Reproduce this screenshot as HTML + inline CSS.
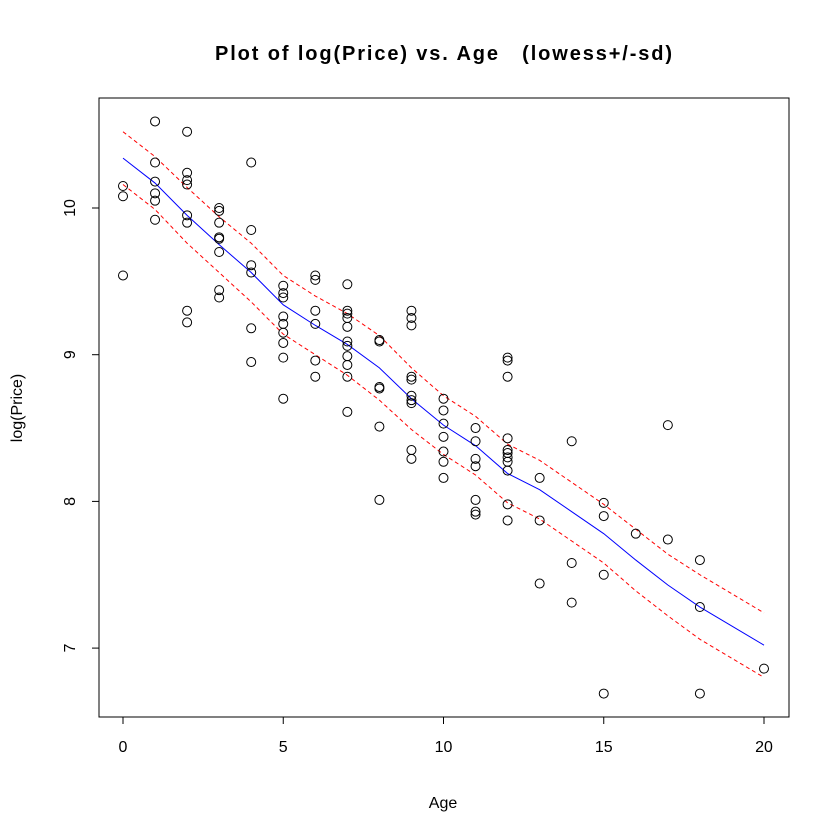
<!DOCTYPE html>
<html><head><meta charset="utf-8"><style>
body{margin:0;background:#fff}
svg{display:block;font-family:"Liberation Sans",Arial,sans-serif}
</style></head><body>
<svg id="chart" width="840" height="840">
<rect width="840" height="840" fill="#fff"/>
<text x="215" y="60" font-size="20" font-weight="bold" textLength="457" lengthAdjust="spacing" style="white-space:pre" xml:space="preserve">Plot of log(Price) vs. Age   (lowess+/-sd)</text>
<text x="443" y="808" font-size="16" text-anchor="middle">Age</text>
<text transform="translate(22,408) rotate(-90)" font-size="16" text-anchor="middle">log(Price)</text>
<rect x="99" y="98" width="690" height="619" fill="none" stroke="#000"/>
<g id="axes"></g><g id="lines"></g><g id="points"></g>
</svg>
<script>
const xTicks=[0,5,10,15,20];
const yTicks=[7,8,9,10];
const ages=[0,0,0,1,1,1,1,1,1,2,2,2,2,2,2,2,2,3,3,3,3,3,3,3,3,4,4,4,4,4,4,5,5,5,5,5,5,5,5,5,6,6,6,6,6,6,7,7,7,7,7,7,7,7,7,7,7,8,8,8,8,8,8,9,9,9,9,9,9,9,9,9,9,10,10,10,10,10,10,10,11,11,11,11,11,11,11,12,12,12,12,12,12,12,12,12,12,12,13,13,13,14,14,14,15,15,15,15,16,17,17,18,18,18,20];
const logPrice=[10.15,10.08,9.54,10.59,10.31,10.18,10.10,10.05,9.92,10.52,10.24,10.19,10.16,9.95,9.90,9.30,9.22,10.0,9.98,9.90,9.80,9.79,9.70,9.44,9.39,10.31,9.85,9.61,9.56,9.18,8.95,9.47,9.42,9.39,9.26,9.21,9.15,9.08,8.98,8.70,9.54,9.51,9.30,9.21,8.96,8.85,9.48,9.30,9.28,9.25,9.19,9.09,9.06,8.99,8.93,8.85,8.61,9.10,9.09,8.78,8.77,8.51,8.01,9.30,9.25,9.20,8.85,8.83,8.72,8.69,8.67,8.35,8.29,8.70,8.62,8.53,8.44,8.34,8.27,8.16,8.50,8.41,8.29,8.24,8.01,7.93,7.91,8.98,8.96,8.85,8.43,8.35,8.33,8.30,8.27,8.21,7.98,7.87,8.16,7.87,7.44,8.41,7.58,7.31,7.99,7.90,7.50,6.69,7.78,8.52,7.74,7.60,7.28,6.69,6.86];
const fitAges=[0,1,2,3,4,5,6,7,8,9,10,11,12,13,14,15,16,17,18,20];
const lowess=[10.34,10.17,9.95,9.75,9.56,9.34,9.20,9.07,8.91,8.70,8.52,8.38,8.19,8.08,7.93,7.78,7.60,7.43,7.28,7.02];
const sd=[0.18,0.18,0.19,0.19,0.2,0.2,0.2,0.21,0.22,0.21,0.2,0.2,0.2,0.2,0.2,0.2,0.21,0.21,0.22,0.22];
const NS="http://www.w3.org/2000/svg";
const X=v=>123+v*(764-123)/20;
const Y=v=>208+(10-v)*146.7;
function mk(t,a,p){const e=document.createElementNS(NS,t);for(const k in a)e.setAttribute(k,a[k]);p.appendChild(e);return e;}
const ax=document.getElementById('axes');
mk('line',{x1:X(0),x2:X(20),y1:717,y2:717,stroke:'#000'},ax);
mk('line',{x1:99,x2:99,y1:Y(7),y2:Y(10),stroke:'#000'},ax);
xTicks.forEach(t=>{
 const l=mk('line',{x1:X(t),x2:X(t),y1:717,y2:724,stroke:'#000'},ax);
 
 
 const tx=mk('text',{x:X(t),y:752,'font-size':16,'text-anchor':'middle'},ax);tx.textContent=t;
 
 
});
yTicks.forEach(t=>{
 const l=mk('line',{x1:92,x2:99,y1:Y(t),y2:Y(t),stroke:'#000'},ax);
 
 
 const tx=mk('text',{transform:`translate(75,${Y(t)}) rotate(-90)`,'font-size':16,'text-anchor':'middle'},ax);tx.textContent=t;
 
 
});
const ln=document.getElementById('lines');
function path(vals,stroke,dash,name){
 const d=fitAges.map((a,i)=>(i?'L':'M')+X(a)+','+Y(vals[i])).join(' ');
 const p=mk('path',{d:d,fill:'none',stroke:stroke,'stroke-width':1,'stroke-dasharray':dash},ln);
 
 
}
path(lowess.map((v,i)=>v+sd[i]),'#f00','4,3','upper-sd-line');
path(lowess.map((v,i)=>v-sd[i]),'#f00','4,3','lower-sd-line');
path(lowess,'#00f','none','lowess-line');
const pg=document.getElementById('points');
ages.forEach((a,i)=>{
 const c=mk('circle',{cx:X(a),cy:Y(logPrice[i]),r:4.5,fill:'none',stroke:'#000','stroke-width':1},pg);
 
 
});
</script>
</body></html>
